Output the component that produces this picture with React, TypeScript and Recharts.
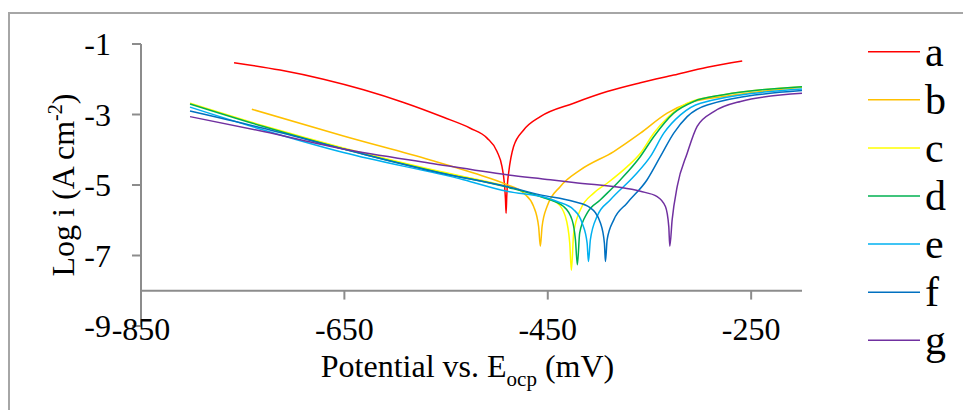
import React from "react";
import { Line, LineChart, ReferenceLine, XAxis, YAxis } from "recharts";

const FONT = '"Liberation Serif", "Times New Roman", serif';

const xTicks = [-850, -650, -450, -250];
const yTicks = [-9, -7, -5, -3, -1];
const xAxisCross = -8;

// polarisation curves, [potential mV, log i]
const curveA: [number, number][] = [
  [-758.5, -1.53], [-713.2, -1.74], [-670.6, -2.0], [-631.2, -2.3], [-591.8, -2.66],
  [-552.5, -3.08], [-526.2, -3.39], [-509.7, -3.67], [-499.9, -4.05], [-495, -4.48],
  [-492.7, -4.95], [-491.6, -5.4], [-491, -5.8], [-490.3, -5.3], [-489.6, -4.95],
  [-488.5, -4.66], [-483.6, -3.91], [-473.7, -3.44], [-457.3, -3.06], [-424.5, -2.68],
  [-391.6, -2.35], [-358.9, -2.1], [-326.1, -1.88], [-293.2, -1.66], [-258.8, -1.48]
];

const curveB: [number, number][] = [
  [-741, -2.85], [-650.9, -3.61], [-565.6, -4.29], [-522.9, -4.66], [-490.1, -4.99],
  [-473.7, -5.23], [-463.9, -5.61], [-459, -6.18], [-457.3, -6.74], [-455.6, -6.18],
  [-450.7, -5.61], [-437.6, -5.04], [-417.9, -4.57], [-385.1, -4.05], [-358.9, -3.53],
  [-332.6, -2.96], [-309.6, -2.66], [-276.9, -2.49], [-200, -2.23]
];

const curveC: [number, number][] = [
  [-801.8, -2.68], [-729.6, -3.32], [-650.9, -3.95], [-555.7, -4.62], [-490.1, -5.04],
  [-457.3, -5.33], [-440.8, -5.51], [-432.7, -5.89], [-428.4, -6.65], [-426.8, -7.42],
  [-424.5, -6.36], [-417.9, -5.7], [-404.8, -5.23], [-391.6, -4.95], [-371.9, -4.48],
  [-358.9, -4.1], [-345.8, -3.53], [-332.6, -3.1], [-312.9, -2.68], [-276.9, -2.44],
  [-200, -2.21]
];

const curveD: [number, number][] = [
  [-801.8, -2.7], [-729.6, -3.34], [-650.9, -3.98], [-555.7, -4.65], [-490.1, -5.06],
  [-457.3, -5.33], [-434.4, -5.61], [-426.1, -5.99], [-422.8, -6.55], [-420.9, -7.26],
  [-418.6, -6.36], [-411.3, -5.8], [-398.2, -5.42], [-378.5, -4.85], [-358.9, -4.19],
  [-345.8, -3.63], [-326.1, -2.96], [-306.4, -2.63], [-276.9, -2.44], [-200, -2.21]
];

const curveE: [number, number][] = [
  [-801.8, -2.79], [-729.6, -3.44], [-650.9, -4.08], [-532.8, -4.85], [-490.1, -5.18],
  [-450.7, -5.37], [-440.8, -5.47], [-424.5, -5.7], [-416.2, -6.08], [-411.3, -6.65],
  [-410, -7.17], [-408.1, -6.55], [-401.5, -5.89], [-388.4, -5.42], [-365.5, -4.76],
  [-349, -4.19], [-335.9, -3.53], [-319.5, -3.01], [-299.8, -2.68], [-200, -2.28]
];

const curveF: [number, number][] = [
  [-801.8, -2.9], [-729.6, -3.39], [-650.9, -3.98], [-555.7, -4.66], [-490.1, -5.04],
  [-457.3, -5.28], [-424.5, -5.47], [-408.1, -5.65], [-398.2, -6.08], [-394.3, -6.65],
  [-393.3, -7.17], [-391.6, -6.55], [-385.1, -5.99], [-371.9, -5.51], [-352.3, -4.85],
  [-339.2, -4.19], [-326.1, -3.53], [-312.9, -3.06], [-293.2, -2.73], [-200, -2.32]
];

const curveG: [number, number][] = [
  [-801.8, -3.06], [-729.6, -3.48], [-650.9, -3.98], [-565.6, -4.38], [-490.1, -4.71],
  [-447.4, -4.85], [-424.5, -4.93], [-358.9, -5.18], [-342.4, -5.33], [-334.3, -5.61],
  [-331, -6.18], [-330, -6.74], [-327.7, -5.99], [-322.7, -5.04], [-312.9, -4.1],
  [-303.1, -3.34], [-286.7, -2.92], [-260.4, -2.63], [-200, -2.4]
];

const seriesNames = ["a", "b", "c", "d", "e", "f", "g"];
const seriesColors = ["#ff0000", "#ffc000", "#ffff00", "#00b050", "#00b0f0", "#0070c0", "#7030a0"];
const seriesCurves = [curveA, curveB, curveC, curveD, curveE, curveF, curveG];

const series = seriesNames.map((name, i) => ({
  name,
  color: seriesColors[i],
  points: seriesCurves[i].map(([x, y]) => ({ x, y }))
}));

const axisGrey = "#8c8c8c";

function XTitle({ viewBox }: any) {
  const cx = viewBox.x + viewBox.width / 2 - 4;
  return (
    <text x={cx} y={viewBox.y + 51} textAnchor="middle" fontFamily={FONT} fontSize={32} fill="#000">
      Potential vs. E
      <tspan dy={9} fontSize={21}>ocp</tspan>
      <tspan dy={-9}> (mV)</tspan>
    </text>
  );
}

function YTitle({ viewBox }: any) {
  const cy = viewBox.y + viewBox.height / 2;
  const x = 74;
  return (
    <text
      x={x}
      y={cy}
      transform={`rotate(-90, ${x}, ${cy})`}
      textAnchor="middle"
      fontFamily={FONT}
      fontSize={32}
      fill="#000"
    >
      Log i (A cm
      <tspan dy={-12} fontSize={20}>-2</tspan>
      <tspan dy={12}>)</tspan>
    </text>
  );
}

function XTick({ x, y, payload }: any) {
  return (
    <text x={x} y={y} dy={14} textAnchor="middle" fontFamily={FONT} fontSize={32} fill="#000">
      {payload.value}
    </text>
  );
}

function SideLegend() {
  const top = 20;
  return (
    <svg width={103} height={370} style={{ position: "absolute", left: 860, top }}>
      {series.map((s, i) => {
        const ly = 51.7 + i * 48.1 - top;
        return (
          <g key={s.name}>
            <line x1={8} x2={60} y1={ly} y2={ly} stroke={s.color} strokeWidth={1.5} />
            <text x={65} y={ly + 14} fontFamily={FONT} fontSize={42} fill="#000">
              {s.name}
            </text>
          </g>
        );
      })}
    </svg>
  );
}

export default function App() {
  return (
    <div
      style={{
        position: "absolute",
        left: 0,
        top: 0,
        width: 963,
        height: 410,
        overflow: "hidden",
        background: "#fff"
      }}
    >
      <div
        style={{
          position: "absolute",
          left: 8,
          top: 12,
          width: 980,
          height: 420,
          borderLeft: "2px solid #a6a6a6",
          borderTop: "2px solid #a6a6a6"
        }}
      />
      <LineChart width={963} height={410} margin={{ top: 44, right: 161, bottom: 0, left: 0 }}>
        <XAxis
          dataKey="x"
          type="number"
          domain={[-850, -200]}
          ticks={xTicks}
          allowDataOverflow
          axisLine={false}
          tickLine={false}
          tickSize={0}
          tickMargin={0}
          height={84}
          tick={<XTick />}
          label={{ content: (props: any) => <XTitle viewBox={props.viewBox} /> }}
        />
        <YAxis
          type="number"
          domain={[-9, -1]}
          ticks={yTicks}
          allowDataOverflow
          width={141}
          axisLine={{ stroke: axisGrey, strokeWidth: 2 }}
          tickLine={{ stroke: axisGrey, strokeWidth: 2 }}
          tickSize={9}
          tickMargin={21}
          tick={{ fontFamily: FONT, fontSize: 32, fill: "#000" }}
          label={{ content: (props: any) => <YTitle viewBox={props.viewBox} /> }}
        />
        <ReferenceLine y={xAxisCross} stroke={axisGrey} strokeWidth={2} />
        {xTicks.slice(1).map((t) => (
          <ReferenceLine
            key={t}
            segment={[
              { x: t, y: xAxisCross },
              { x: t, y: xAxisCross - 0.25 }
            ]}
            stroke={axisGrey}
            strokeWidth={2}
          />
        ))}
        {series.map((s) => (
          <Line
            key={s.name}
            name={s.name}
            data={s.points}
            dataKey="y"
            type="monotone"
            stroke={s.color}
            strokeWidth={1.5}
            dot={false}
            activeDot={false}
            isAnimationActive={false}
          />
        ))}
      </LineChart>
      <SideLegend />
    </div>
  );
}
